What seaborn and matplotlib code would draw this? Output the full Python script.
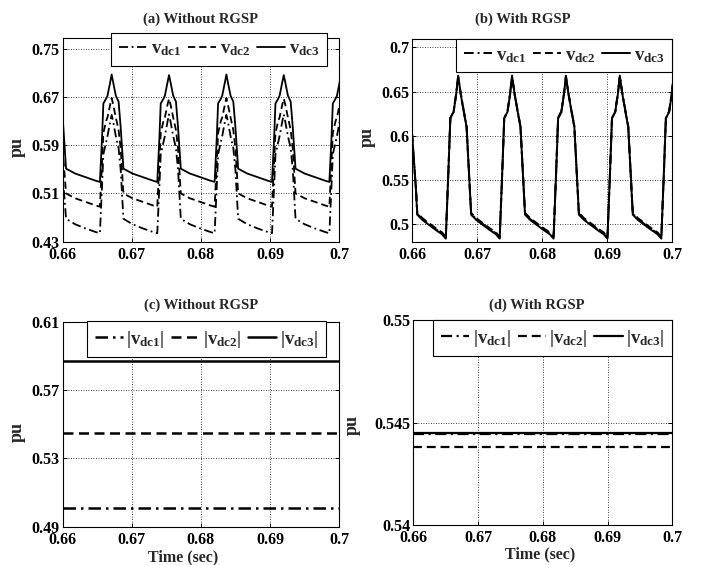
import matplotlib
matplotlib.use("Agg")
import matplotlib.pyplot as plt
import seaborn as sns

# ---------------- (a) Without RGSP : instantaneous dc-link voltages ----------------
t_a = [0.66000, 0.66051, 0.66181, 0.66331, 0.66481,
       0.66540, 0.66570, 0.66590, 0.66630, 0.66650, 0.66690, 0.66710, 0.66730,
       0.66770, 0.66810, 0.66840, 0.66880, 0.67010, 0.67160, 0.67310,
       0.67369, 0.67399, 0.67419, 0.67459, 0.67479, 0.67519, 0.67539, 0.67559,
       0.67599, 0.67639, 0.67669, 0.67709, 0.67839, 0.67989, 0.68139,
       0.68198, 0.68228, 0.68248, 0.68288, 0.68308, 0.68348, 0.68368, 0.68388,
       0.68428, 0.68468, 0.68498, 0.68538, 0.68668, 0.68818, 0.68968,
       0.69027, 0.69057, 0.69077, 0.69117, 0.69137, 0.69177, 0.69197, 0.69217,
       0.69257, 0.69297, 0.69327, 0.69367, 0.69497, 0.69647, 0.69797,
       0.69856, 0.69886, 0.69906, 0.69946, 0.69966, 0.70006, 0.70026]
vdc3_a = [0.640, 0.551, 0.543, 0.537, 0.531,
          0.529, 0.600, 0.659, 0.667, 0.672, 0.695, 0.707, 0.695,
          0.672, 0.662, 0.620, 0.551, 0.543, 0.537, 0.531,
          0.529, 0.600, 0.659, 0.667, 0.672, 0.695, 0.706, 0.695,
          0.672, 0.662, 0.620, 0.551, 0.543, 0.537, 0.531,
          0.529, 0.600, 0.659, 0.667, 0.672, 0.695, 0.707, 0.695,
          0.672, 0.662, 0.620, 0.551, 0.543, 0.537, 0.531,
          0.529, 0.600, 0.659, 0.667, 0.672, 0.695, 0.706, 0.695,
          0.672, 0.662, 0.620, 0.551, 0.543, 0.537, 0.531,
          0.529, 0.600, 0.659, 0.667, 0.672, 0.695, 0.707]
vdc2_a = [0.585, 0.510, 0.502, 0.496, 0.490,
          0.488, 0.560, 0.610, 0.630, 0.636, 0.658, 0.668, 0.658,
          0.636, 0.615, 0.585, 0.510, 0.502, 0.496, 0.490,
          0.488, 0.560, 0.610, 0.630, 0.636, 0.658, 0.667, 0.658,
          0.636, 0.615, 0.585, 0.510, 0.502, 0.496, 0.490,
          0.488, 0.560, 0.610, 0.630, 0.636, 0.658, 0.668, 0.658,
          0.636, 0.615, 0.585, 0.510, 0.502, 0.496, 0.490,
          0.488, 0.560, 0.610, 0.630, 0.636, 0.658, 0.667, 0.658,
          0.636, 0.615, 0.585, 0.510, 0.502, 0.496, 0.490,
          0.488, 0.560, 0.610, 0.630, 0.636, 0.658, 0.668]
vdc1_a = [0.545, 0.468, 0.459, 0.452, 0.446,
          0.444, 0.520, 0.575, 0.595, 0.605, 0.630, 0.640, 0.630,
          0.605, 0.585, 0.550, 0.468, 0.459, 0.452, 0.446,
          0.444, 0.520, 0.575, 0.595, 0.605, 0.630, 0.641, 0.630,
          0.605, 0.585, 0.550, 0.468, 0.459, 0.452, 0.446,
          0.444, 0.520, 0.575, 0.595, 0.605, 0.630, 0.640, 0.630,
          0.605, 0.585, 0.550, 0.468, 0.459, 0.452, 0.446,
          0.444, 0.520, 0.575, 0.595, 0.605, 0.630, 0.641, 0.630,
          0.605, 0.585, 0.550, 0.468, 0.459, 0.452, 0.446,
          0.444, 0.520, 0.575, 0.595, 0.605, 0.630, 0.640]

# ---------------- (b) With RGSP : instantaneous dc-link voltages ----------------
t_b = [0.66000, 0.66061, 0.66081, 0.66161, 0.66361, 0.66461,
       0.66520, 0.66560, 0.66590, 0.66640, 0.66680, 0.66710, 0.66750,
       0.66800, 0.66840, 0.66890, 0.66910, 0.66990, 0.67190, 0.67290,
       0.67349, 0.67389, 0.67419, 0.67469, 0.67509, 0.67539, 0.67579,
       0.67629, 0.67669, 0.67719, 0.67739, 0.67819, 0.68019, 0.68119,
       0.68178, 0.68218, 0.68248, 0.68298, 0.68338, 0.68368, 0.68408,
       0.68458, 0.68498, 0.68548, 0.68568, 0.68648, 0.68848, 0.68948,
       0.69007, 0.69047, 0.69077, 0.69127, 0.69167, 0.69197, 0.69237,
       0.69287, 0.69327, 0.69377, 0.69397, 0.69477, 0.69677, 0.69777,
       0.69836, 0.69876, 0.69906, 0.69956, 0.69996, 0.70026]
vdc3_b = [0.603, 0.539, 0.511, 0.505, 0.494, 0.489,
          0.484, 0.560, 0.620, 0.627, 0.647, 0.668, 0.647,
          0.626, 0.610, 0.539, 0.511, 0.505, 0.494, 0.489,
          0.484, 0.560, 0.620, 0.627, 0.647, 0.668, 0.647,
          0.626, 0.610, 0.539, 0.511, 0.505, 0.494, 0.489,
          0.484, 0.560, 0.620, 0.627, 0.647, 0.668, 0.647,
          0.626, 0.610, 0.539, 0.511, 0.505, 0.494, 0.489,
          0.484, 0.560, 0.620, 0.627, 0.647, 0.668, 0.647,
          0.626, 0.610, 0.539, 0.511, 0.505, 0.494, 0.489,
          0.484, 0.560, 0.620, 0.627, 0.647, 0.668]
vdc2_b = [0.603, 0.540, 0.513, 0.507, 0.496, 0.491,
          0.486, 0.560, 0.620, 0.627, 0.647, 0.666, 0.647,
          0.626, 0.610, 0.540, 0.513, 0.507, 0.496, 0.491,
          0.486, 0.560, 0.620, 0.627, 0.647, 0.666, 0.647,
          0.626, 0.610, 0.540, 0.513, 0.507, 0.496, 0.491,
          0.486, 0.560, 0.620, 0.627, 0.647, 0.666, 0.647,
          0.626, 0.610, 0.540, 0.513, 0.507, 0.496, 0.491,
          0.486, 0.560, 0.620, 0.627, 0.647, 0.666, 0.647,
          0.626, 0.610, 0.540, 0.513, 0.507, 0.496, 0.491,
          0.486, 0.560, 0.620, 0.627, 0.647, 0.666]
vdc1_b = [0.603, 0.540, 0.512, 0.506, 0.495, 0.490,
          0.485, 0.560, 0.620, 0.628, 0.648, 0.667, 0.648,
          0.627, 0.611, 0.540, 0.512, 0.506, 0.495, 0.490,
          0.485, 0.560, 0.620, 0.628, 0.648, 0.667, 0.648,
          0.627, 0.611, 0.540, 0.512, 0.506, 0.495, 0.490,
          0.485, 0.560, 0.620, 0.628, 0.648, 0.667, 0.648,
          0.627, 0.611, 0.540, 0.512, 0.506, 0.495, 0.490,
          0.485, 0.560, 0.620, 0.628, 0.648, 0.667, 0.648,
          0.627, 0.611, 0.540, 0.512, 0.506, 0.495, 0.490,
          0.485, 0.560, 0.620, 0.628, 0.648, 0.667]

# ---------------- (c), (d) : average magnitudes ----------------
t_avg = [0.66, 0.70]
vdc1_c = [0.501, 0.501]
vdc2_c = [0.545, 0.545]
vdc3_c = [0.587, 0.587]
vdc1_d = [0.54442, 0.54442]
vdc2_d = [0.54382, 0.54382]
vdc3_d = [0.54450, 0.54450]

x_ticks = [0.66, 0.67, 0.68, 0.69, 0.70]
x_ticklabels = ["0.66", "0.67", "0.68", "0.69", "0.7"]
y_ticks_a = [0.43, 0.51, 0.59, 0.67, 0.75]
y_ticks_b = [0.50, 0.55, 0.60, 0.65, 0.70]
y_ticklabels_b = ["0.5", "0.55", "0.6", "0.65", "0.7"]
y_ticks_c = [0.49, 0.53, 0.57, 0.61]
y_ticks_d = [0.540, 0.545, 0.550]
y_ticklabels_d = ["0.54", "0.545", "0.55"]

inst_labels = [r"$\mathbf{v}_{\mathbf{dc1}}$", r"$\mathbf{v}_{\mathbf{dc2}}$",
               r"$\mathbf{v}_{\mathbf{dc3}}$"]
avg_labels = [r"$|\mathbf{v}_{\mathbf{dc1}}|$", r"$|\mathbf{v}_{\mathbf{dc2}}|$",
              r"$|\mathbf{v}_{\mathbf{dc3}}|$"]

sns.set_style("ticks")
plt.rcParams.update({
    "font.family": ["Liberation Serif", "DejaVu Serif"],
    "font.weight": "bold",
    "axes.labelweight": "bold",
    "axes.titleweight": "bold",
    "mathtext.fontset": "custom",
    "mathtext.rm": "Liberation Serif:bold",
    "mathtext.bf": "Liberation Serif:bold",
    "mathtext.it": "Liberation Serif:bold",
    "axes.edgecolor": "black",
    "axes.linewidth": 0.8,
    "xtick.direction": "in",
    "ytick.direction": "in",
    "xtick.color": "black",
    "ytick.color": "black",
})

DASHDOT = (0, (5, 2, 1, 2))
DASHED = (0, (4, 2.2))

fig = plt.figure(figsize=(7.09, 5.65), dpi=100)
ax_a = fig.add_axes([0.0882, 0.5722, 0.3904, 0.3611])
ax_b = fig.add_axes([0.5811, 0.5722, 0.3667, 0.3582])
ax_c = fig.add_axes([0.0882, 0.0678, 0.3904, 0.3628])
ax_d = fig.add_axes([0.5829, 0.0708, 0.3653, 0.3628])


def draw(ax, t, series, lw):
    styles = [DASHDOT, DASHED, "-"]
    # solid drawn first so that the dashed traces stay visible on top
    order = [2, 0, 1]
    for i in order:
        sns.lineplot(x=t, y=series[i], ax=ax, color="black", lw=lw,
                     linestyle=styles[i], estimator=None, sort=False,
                     legend=False, zorder=3)
    return [ax.lines[order.index(i)] for i in range(3)]


def frame(ax, yticks, ylim, yticklabels=None):
    ax.set_xlim(0.66, 0.70)
    ax.set_ylim(*ylim)
    ax.set_xticks(x_ticks)
    ax.set_xticklabels(x_ticklabels)
    ax.set_yticks(yticks)
    if yticklabels is not None:
        ax.set_yticklabels(yticklabels)
    ax.tick_params(axis="both", labelsize=11.5, length=3, width=0.7,
                   top=True, right=True)
    ax.tick_params(axis="y", pad=2)
    ax.tick_params(axis="x", pad=3.5)
    ax.grid(True, linestyle=(0, (1, 2)), color="black", linewidth=0.6)
    ax.set_axisbelow(True)
    for s in ax.spines.values():
        s.set_linewidth(0.8)
        s.set_zorder(5)


def legend(ax, handles, labels, anchor):
    leg = ax.legend(handles, labels, ncol=3, loc="upper right",
                    bbox_to_anchor=anchor, frameon=True, fancybox=False,
                    edgecolor="black", framealpha=1, fontsize=13.5,
                    handlelength=1.5, handletextpad=0.2, columnspacing=0.35,
                    borderpad=0.4, borderaxespad=0)
    leg.get_frame().set_linewidth(0.8)
    leg.set_zorder(6)


h = draw(ax_a, t_a, [vdc1_a, vdc2_a, vdc3_a], 1.3)
frame(ax_a, y_ticks_a, (0.43, 0.768))
legend(ax_a, h, inst_labels, (0.956, 1.023))
ax_a.set_title("(a) Without RGSP", fontsize=10.5, pad=10.4)

h = draw(ax_b, t_b, [vdc1_b, vdc2_b, vdc3_b], 1.4)
frame(ax_b, y_ticks_b, (0.4805, 0.709), y_ticklabels_b)
legend(ax_b, h, inst_labels, (1.0, 1.0))
ax_b.set_title("(b) With RGSP", fontsize=10.5, pad=12, x=0.427)

h = draw(ax_c, t_avg, [vdc1_c, vdc2_c, vdc3_c], 1.8)
frame(ax_c, y_ticks_c, (0.49, 0.61))
legend(ax_c, h, avg_labels, (0.952, 1.003))
ax_c.set_title("(c) Without RGSP", fontsize=10.5, pad=9)

h = draw(ax_d, t_avg, [vdc1_d, vdc2_d, vdc3_d], 1.6)
frame(ax_d, y_ticks_d, (0.54, 0.55), y_ticklabels_d)
legend(ax_d, h, avg_labels, (1.0, 1.0))
ax_d.set_title("(d) With RGSP", fontsize=10.5, pad=8.4, x=0.476)

for ax, xy in [(ax_a, (-0.132, 0.466)), (ax_b, (-0.138, 0.519)),
               (ax_c, (-0.132, 0.463)), (ax_d, (-0.202, 0.488))]:
    ax.set_ylabel("pu", fontsize=13)
    ax.yaxis.set_label_coords(*xy)
    ax.set_xlabel("")

for ax, xy in [(ax_c, (0.435, -0.11)), (ax_d, (0.489, -0.106))]:
    ax.set_xlabel("Time (sec)", fontsize=11.5)
    ax.xaxis.set_label_coords(*xy)

fig.savefig("out.png", dpi=100)
